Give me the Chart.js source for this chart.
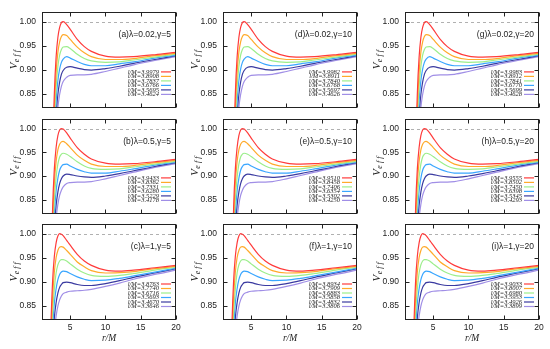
<!DOCTYPE html>
<html lang="en">
<head>
<meta charset="UTF-8">
<title>Effective potential V_eff vs r/M</title>
<style>
  html, body { margin: 0; padding: 0; background: #fff; }
  #wrap { position: relative; width: 550px; height: 349px; overflow: hidden; }
  #wrap canvas { position: absolute; }
</style>
<script src="https://cdn.jsdelivr.net/npm/chart.js"></script>
</head>
<body>
<div id="wrap"></div>
<script>
// sample points in r/M shared by every curve
const rGrid = [2, 2.25, 2.5, 2.75, 3, 3.25, 3.5, 3.75, 4, 4.5, 5, 6, 7, 8, 10, 12, 14, 17, 20];

const lam002Red    = [0.10, 0.462, 0.712, 0.850, 0.926, 0.967, 0.988, 0.998, 1.000, 0.994, 0.984, 0.963, 0.948, 0.938, 0.928, 0.926, 0.927, 0.931, 0.936];
const lam002Orange = [0.10, 0.443, 0.684, 0.819, 0.894, 0.936, 0.958, 0.969, 0.973, 0.971, 0.963, 0.947, 0.935, 0.927, 0.921, 0.921, 0.923, 0.929, 0.934];
const lam002Green  = [0.10, 0.425, 0.658, 0.789, 0.864, 0.906, 0.930, 0.942, 0.947, 0.948, 0.944, 0.932, 0.923, 0.918, 0.915, 0.916, 0.920, 0.926, 0.932];
const lam002Blue   = [0.10, 0.408, 0.633, 0.760, 0.834, 0.877, 0.901, 0.915, 0.922, 0.927, 0.924, 0.917, 0.911, 0.908, 0.908, 0.912, 0.916, 0.924, 0.930];
const lam002Navy   = [0.10, 0.391, 0.608, 0.732, 0.805, 0.848, 0.874, 0.890, 0.898, 0.905, 0.906, 0.903, 0.900, 0.899, 0.902, 0.907, 0.913, 0.921, 0.929];
const lam002Violet = [0.10, 0.374, 0.584, 0.705, 0.777, 0.821, 0.848, 0.865, 0.875, 0.884, 0.888, 0.889, 0.889, 0.890, 0.896, 0.903, 0.910, 0.919, 0.927];

// row lambda = 0.5 (panels b, e, h)
const lam05Red    = [0.41, 0.67, 0.83, 0.915, 0.960, 0.985, 0.997, 1.000, 0.999, 0.991, 0.980, 0.960, 0.946, 0.936, 0.927, 0.925, 0.926, 0.930, 0.935];
const lam05Orange = [0.40, 0.64, 0.80, 0.885, 0.930, 0.955, 0.967, 0.972, 0.973, 0.968, 0.960, 0.944, 0.933, 0.925, 0.920, 0.920, 0.922, 0.928, 0.933];
const lam05Green  = [0.38, 0.62, 0.77, 0.850, 0.897, 0.925, 0.940, 0.946, 0.948, 0.946, 0.941, 0.930, 0.921, 0.916, 0.914, 0.915, 0.919, 0.925, 0.931];
const lam05Blue   = [0.36, 0.59, 0.74, 0.820, 0.868, 0.895, 0.912, 0.920, 0.924, 0.925, 0.921, 0.914, 0.909, 0.906, 0.906, 0.910, 0.915, 0.923, 0.929];
const lam05Navy   = [0.35, 0.57, 0.71, 0.790, 0.838, 0.866, 0.884, 0.894, 0.900, 0.904, 0.903, 0.900, 0.898, 0.897, 0.900, 0.905, 0.911, 0.920, 0.928];
const lam05Violet = [0.33, 0.55, 0.68, 0.760, 0.810, 0.840, 0.859, 0.870, 0.877, 0.884, 0.886, 0.887, 0.887, 0.888, 0.894, 0.901, 0.908, 0.918, 0.926];

// row lambda = 1 (panels c, f, i)
const lam1Red    = [0.62, 0.80, 0.900, 0.953, 0.981, 0.995, 1.000, 0.999, 0.996, 0.986, 0.976, 0.957, 0.943, 0.934, 0.924, 0.922, 0.924, 0.929, 0.934];
const lam1Orange = [0.59, 0.77, 0.865, 0.920, 0.950, 0.965, 0.972, 0.973, 0.972, 0.965, 0.957, 0.941, 0.931, 0.923, 0.918, 0.919, 0.921, 0.927, 0.932];
const lam1Green  = [0.56, 0.74, 0.832, 0.885, 0.918, 0.935, 0.943, 0.946, 0.946, 0.943, 0.937, 0.926, 0.918, 0.913, 0.911, 0.913, 0.917, 0.924, 0.930];
const lam1Blue   = [0.54, 0.71, 0.800, 0.855, 0.885, 0.904, 0.915, 0.920, 0.922, 0.921, 0.917, 0.910, 0.905, 0.902, 0.903, 0.907, 0.912, 0.920, 0.928];
const lam1Navy   = [0.52, 0.68, 0.770, 0.825, 0.856, 0.876, 0.888, 0.894, 0.898, 0.899, 0.898, 0.894, 0.892, 0.892, 0.896, 0.902, 0.909, 0.918, 0.927];
const lam1Violet = [0.50, 0.65, 0.740, 0.795, 0.828, 0.849, 0.862, 0.870, 0.875, 0.878, 0.880, 0.881, 0.882, 0.884, 0.890, 0.897, 0.905, 0.915, 0.924];

// legend values l/M, one list per panel
const lmA = ['3.9979', '3.8908', '3.7837', '3.6766', '3.5695', '3.4624'];
const lmD = ['3.9982', '3.8911', '3.7840', '3.6768', '3.5697', '3.4626'];
const lmG = ['3.9983', '3.8912', '3.7841', '3.6770', '3.5699', '3.4628'];
const lmB = ['3.9433', '3.8382', '3.7331', '3.6280', '3.5229', '3.4178'];
const lmE = ['3.9510', '3.8458', '3.7406', '3.6354', '3.5302', '3.4250'];
const lmH = ['3.9555', '3.8502', '3.7450', '3.6398', '3.5345', '3.4293'];
const lmC = ['3.8763', '3.7740', '3.6716', '3.5693', '3.4670', '3.3646'];
const lmF = ['3.8934', '3.7909', '3.6883', '3.5858', '3.4832', '3.3806'];
const lmI = ['3.9033', '3.8007', '3.6980', '3.5953', '3.4926', '3.3899'];

const xTicks = [5, 10, 15, 20];
const yTicks = [0.85, 0.90, 0.95, 1.00];

// grid layout: rows = lambda, columns = gamma
const rowCurves = [
  [lam002Red, lam002Orange, lam002Green, lam002Blue, lam002Navy, lam002Violet],
  [lam05Red, lam05Orange, lam05Green, lam05Blue, lam05Navy, lam05Violet],
  [lam1Red, lam1Orange, lam1Green, lam1Blue, lam1Navy, lam1Violet]
];
const panelLabels = [[lmA, lmD, lmG], [lmB, lmE, lmH], [lmC, lmF, lmI]];
const panelTitles = [
  ['(a)λ=0.02,γ=5', '(d)λ=0.02,γ=10', '(g)λ=0.02,γ=20'],
  ['(b)λ=0.5,γ=5', '(e)λ=0.5,γ=10', '(h)λ=0.5,γ=20'],
  ['(c)λ=1,γ=5', '(f)λ=1,γ=10', '(i)λ=1,γ=20']
];
const lineColors = ['#ff3b3b', '#ffaa2a', '#9cee8c', '#3aa6ff', '#3a3aa0', '#a08ee6'];

const colLeft = [42, 223, 405];
const plotW = 134;
const rowTop = [9, 116, 221];
const rowH = [106, 105, 99];
const AXW = 42, PADT = 8, PADR = 10;

// frame, inward ticks, dashed V=1 line, annotation, legend, axis titles
const panelDecor = {
  id: 'panelDecor',
  beforeDatasetsDraw(chart) {
    const { ctx, chartArea: a, scales: { y } } = chart;
    const yy = Math.round(y.getPixelForValue(1)) + 0.5;
    ctx.save();
    ctx.strokeStyle = '#b0b0b0';
    ctx.lineWidth = 1;
    ctx.setLineDash([3, 3]);
    ctx.beginPath();
    ctx.moveTo(a.left, yy);
    ctx.lineTo(a.right, yy);
    ctx.stroke();
    ctx.restore();
  },
  afterDraw(chart, args, opts) {
    const { ctx, chartArea: a, scales: { x, y } } = chart;
    const L = Math.round(a.left) + 0.5, R = Math.round(a.right) - 0.5;
    const T = Math.round(a.top) + 0.5, B = Math.round(a.bottom) - 0.5;
    ctx.save();
    ctx.strokeStyle = '#222';
    ctx.lineWidth = 1;
    ctx.strokeRect(L, T, R - L, B - T);
    ctx.beginPath();
    xTicks.forEach(v => {
      const px = Math.round(x.getPixelForValue(v)) + 0.5;
      ctx.moveTo(px, B); ctx.lineTo(px, B - 4);
      ctx.moveTo(px, T); ctx.lineTo(px, T + 4);
    });
    yTicks.forEach(v => {
      const py = Math.round(y.getPixelForValue(v)) + 0.5;
      ctx.moveTo(L, py); ctx.lineTo(L + 4, py);
      ctx.moveTo(R, py); ctx.lineTo(R - 4, py);
    });
    ctx.stroke();

    // panel annotation
    ctx.fillStyle = '#222';
    ctx.font = '8.5px "Liberation Sans", Arial, sans-serif';
    ctx.textAlign = 'right';
    ctx.textBaseline = 'middle';
    ctx.fillText(opts.title, a.right - 5, a.top + 23);

    // legend at lower right
    ctx.font = 'italic 6.5px "Liberation Serif", serif';
    opts.labels.forEach((lab, k) => {
      const ly = a.bottom - 36 + k * 4.5;
      ctx.fillStyle = '#222';
      ctx.fillText('l/M=' + lab, a.right - 17, ly);
      ctx.strokeStyle = lineColors[k];
      ctx.lineWidth = 1.2;
      ctx.beginPath();
      ctx.moveTo(a.right - 15, ly);
      ctx.lineTo(a.right - 5, ly);
      ctx.stroke();
    });

    // V_eff axis title
    ctx.fillStyle = '#222';
    ctx.translate(a.left - 29, (a.top + a.bottom) / 2);
    ctx.rotate(-Math.PI / 2);
    ctx.textAlign = 'left';
    ctx.textBaseline = 'alphabetic';
    ctx.font = 'italic 11px "Liberation Serif", serif';
    const wV = ctx.measureText('V').width;
    ctx.font = 'italic 8px "Liberation Serif", serif';
    const wE = ctx.measureText('e f f').width;
    const sx = -(wV + wE) / 2;
    ctx.font = 'italic 11px "Liberation Serif", serif';
    ctx.fillText('V', sx, 3.5);
    ctx.font = 'italic 8px "Liberation Serif", serif';
    ctx.fillText('e f f', sx + wV + 0.5, 5.5);
    ctx.setTransform(1, 0, 0, 1, 0, 0);

    if (opts.bottom) {
      ctx.font = 'italic 9.5px "Liberation Serif", serif';
      ctx.textAlign = 'center';
      ctx.textBaseline = 'middle';
      ctx.fillText('r/M', (a.left + a.right) / 2, a.bottom + 18);
    }
    ctx.restore();
  }
};

const wrap = document.getElementById('wrap');

for (let row = 0; row < 3; row++) {
  for (let col = 0; col < 3; col++) {
    const bottom = row === 2;
    const W = AXW + plotW + PADR;
    const H = PADT + rowH[row] + (bottom ? 30 : 4);
    const cv = document.createElement('canvas');
    cv.width = W; cv.height = H;
    cv.style.left = (colLeft[col] - AXW) + 'px';
    cv.style.top = (rowTop[row] - PADT) + 'px';
    cv.style.width = W + 'px'; cv.style.height = H + 'px';
    wrap.appendChild(cv);

    const datasets = rowCurves[row].map((vals, k) => ({
      label: 'l/M=' + panelLabels[row][col][k],
      data: rGrid.map((r, i) => ({ x: r, y: vals[i] })),
      borderColor: lineColors[k],
      borderWidth: 1.2,
      pointRadius: 0,
      cubicInterpolationMode: 'monotone',
      clip: 0
    }));

    new Chart(cv.getContext('2d'), {
      type: 'line',
      data: { datasets },
      options: {
        responsive: false,
        animation: false,
        devicePixelRatio: 1,
        layout: { padding: { left: 0, top: PADT, right: PADR, bottom: bottom ? 16 : 4 } },
        scales: {
          x: {
            type: 'linear', min: 1, max: 20,
            grid: { display: false, drawTicks: false },
            border: { display: false },
            afterBuildTicks: s => { s.ticks = xTicks.map(v => ({ value: v })); },
            afterFit: s => { s.height = bottom ? 14 : 0; },
            ticks: {
              display: bottom, padding: 3, color: '#222', maxRotation: 0,
              font: { family: '"Liberation Sans", Arial, sans-serif', size: 8.5 }
            }
          },
          y: {
            type: 'linear', min: 0.82, max: 1.02,
            grid: { display: false, drawTicks: false },
            border: { display: false },
            afterBuildTicks: s => { s.ticks = yTicks.map(v => ({ value: v })); },
            afterFit: s => { s.width = AXW; },
            ticks: {
              padding: 6, color: '#222',
              callback: v => Number(v).toFixed(2),
              font: { family: '"Liberation Sans", Arial, sans-serif', size: 8.5 }
            }
          }
        },
        plugins: {
          legend: { display: false },
          tooltip: { enabled: false },
          panelDecor: { title: panelTitles[row][col], labels: panelLabels[row][col], bottom }
        }
      },
      plugins: [panelDecor]
    });
  }
}
</script>
</body>
</html>
